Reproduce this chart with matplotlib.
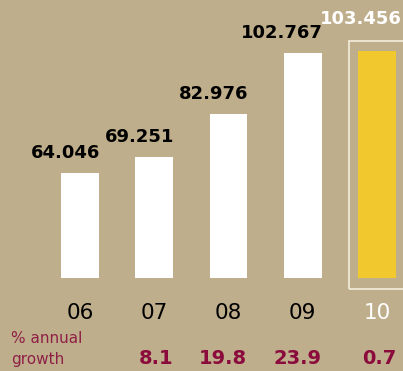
import matplotlib
matplotlib.use("Agg")
import matplotlib.pyplot as plt
from matplotlib.patches import Rectangle
from matplotlib.transforms import blended_transform_factory

years = ["06", "07", "08", "09", "10"]
values = [64.046, 69.251, 82.976, 102.767, 103.456]
value_labels = ["64.046", "69.251", "82.976", "102.767", "103.456"]
growth = ["", "8.1", "19.8", "23.9", "0.7"]

BG = "#BFAE8B"
YELLOW = "#F2C82F"
RED = "#8A0B3C"
BASE = 30.2
W = 0.51

fig = plt.figure(figsize=(4.03, 3.71), dpi=100, facecolor=BG)
ax = fig.add_axes([0, 0, 1, 1])
ax.set_facecolor(BG)
ax.set_xlim(-1.077, 4.35)
ax.set_ylim(0.2, 119.9)
ax.axis("off")

x = list(range(len(years)))
colors = ["white"] * (len(years) - 1) + [YELLOW]
heights = [v - BASE for v in values]
ax.bar(x, heights, bottom=BASE, width=W, color=colors, linewidth=0)

# highlight box around last bar
px_x = 74.25  # px per x unit
px_y = 3.1    # px per y unit
last = x[-1]
bx0 = last - W / 2 - 9 / px_x
by0 = BASE - 11 / px_y
by1 = values[-1] + 10 / px_y
ax.add_patch(Rectangle((bx0, by0), 2.0, by1 - by0, fill=False,
                       edgecolor="#EFE8D6", linewidth=1.3, clip_on=True))

for i, (v, lab) in enumerate(zip(values, value_labels)):
    last_bar = i == len(values) - 1
    ax.annotate(lab, xy=(i + W / 2, v), xytext=(1 if not last_bar else 4, 11 if not last_bar else 19.5),
                textcoords="offset points", ha="right", va="baseline",
                fontsize=13, fontweight="bold",
                color="white" if last_bar else "black")

tr = blended_transform_factory(ax.transData, ax.transAxes)
for i, yr in enumerate(years):
    ax.text(i, 0.140, yr, transform=tr, ha="center", va="baseline",
            fontsize=15.5, color="white" if i == len(years) - 1 else "black")

for i, g in enumerate(growth):
    if g:
        ax.text(i + W / 2, 0.019, g, transform=tr, ha="right", va="baseline",
                fontsize=14, fontweight="bold", color=RED)

ax.text(11 / 403, 0.0755, "% annual", transform=ax.transAxes, ha="left",
        va="baseline", fontsize=11, color="#8E2046")
ax.text(11 / 403, 0.019, "growth", transform=ax.transAxes, ha="left",
        va="baseline", fontsize=11, color="#8E2046")

fig.savefig("out.png", dpi=100, facecolor=BG)
